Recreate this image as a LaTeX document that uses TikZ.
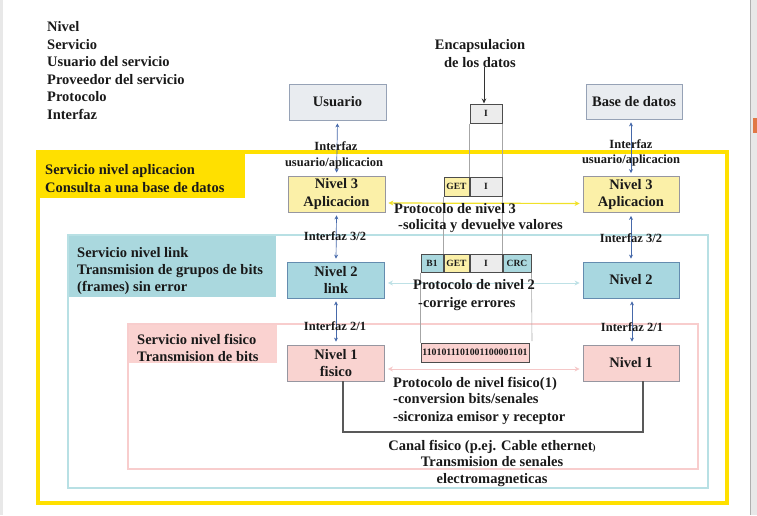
\documentclass[tikz,border=0pt]{standalone}
\usepackage{fontspec}
\setmainfont{Liberation Serif}
\usetikzlibrary{arrows.meta,calc}
\definecolor{yfr}{RGB}{255,224,0}
\definecolor{cyfr}{RGB}{184,224,228}
\definecolor{cyfill}{RGB}{170,216,222}
\definecolor{pkfr}{RGB}{248,205,205}
\definecolor{pkfill}{RGB}{250,210,208}
\definecolor{gyfill}{RGB}{233,236,240}
\definecolor{gyline}{RGB}{150,162,182}
\definecolor{y3fill}{RGB}{251,240,168}
\definecolor{y3line}{RGB}{150,150,160}
\definecolor{n2fill}{RGB}{168,215,224}
\definecolor{n2line}{RGB}{100,140,175}
\definecolor{n1fill}{RGB}{249,211,208}
\definecolor{ifblue}{RGB}{70,105,170}
\definecolor{txt}{RGB}{25,25,25}
\definecolor{p3}{RGB}{240,225,40}
\definecolor{p2}{RGB}{190,225,230}
\definecolor{p1}{RGB}{245,200,200}
\definecolor{edgegray}{RGB}{232,232,232}
\definecolor{edgeline}{RGB}{175,175,175}
\definecolor{orangemark}{RGB}{225,120,70}
\definecolor{pktgray}{RGB}{236,236,236}
\newcommand\fbig{\fontsize{14.5}{17.5}\selectfont\bfseries}
\newcommand\fsm{\fontsize{12.5}{14.5}\selectfont\bfseries}
\newcommand\fpkt{\fontsize{9.5}{10}\selectfont\bfseries}
\newcommand\fbits{\fontsize{9.8}{10}\selectfont\bfseries}
\begin{document}
\begin{tikzpicture}[x=1pt,y=-1pt,
  lbl/.style={anchor=base west, inner sep=0, font=\fbig, text=txt},
  lblc/.style={anchor=base, inner sep=0, font=\fbig, text=txt},
  ifl/.style={anchor=base, inner sep=0, font=\fsm, text=txt},
  box/.style={line width=0.8pt, minimum height=36pt, minimum width=97pt, inner sep=0, align=center, font=\fbig, text=txt},
  pkt/.style={draw=black!70, line width=1pt, inner sep=0, minimum height=19pt, font=\fpkt, text=txt},
  ifarr/.style={draw=ifblue, line width=0.7pt, {Stealth[length=4pt,width=4pt]}-{Stealth[length=4pt,width=4pt]}, shorten <=3pt, shorten >=3pt},
  guide/.style={draw=black!35, line width=0.6pt},
  parr/.style={line width=1.2pt, shorten <=3pt, shorten >=3pt}
]
\useasboundingbox (0,0) rectangle (757,515);
% screen edges
\fill[edgegray] (0,0) rectangle (3,515);
\fill[edgegray] (750,0) rectangle (757,515);
\draw[edgeline, line width=0.8pt] (750,0) -- (750,515);
\fill[orangemark] (753,118) rectangle (757,133);

% frames
\fill[yfr] (38,152) rectangle (245,198);
\draw[yfr, line width=3.5pt] (38,152) rectangle (727,503);
\fill[cyfill] (68,235) rectangle (276,297);
\draw[cyfr, line width=2pt] (68,235) rectangle (708,488);
\fill[pkfill] (128,324) rectangle (277,363);
\draw[pkfr, line width=2pt] (128,324) rectangle (698,469);

% left list
\node[lbl] (t1) at (47,31.5) {Nivel};
\node[lbl] (t2) at (47,49) {Servicio};
\node[lbl] (t3) at (47,66.5) {Usuario del servicio};
\node[lbl] (t4) at (47,84) {Proveedor del servicio};
\node[lbl] (t5) at (47,101.5) {Protocolo};
\node[lbl] (t6) at (47,119) {Interfaz};

% frame labels
\node[lbl] (ya) at (45,174) {Servicio nivel aplicacion};
\node[lbl] (yb) at (45,192) {Consulta a una base de datos};
\node[lbl] (ca) at (77,257) {Servicio nivel link};
\node[lbl] (cb) at (77,274) {Transmision de grupos de bits};
\node[lbl] (cc) at (77,291) {(frames) sin error};
\node[lbl] (pa) at (137,344) {Servicio nivel fisico};
\node[lbl] (pb) at (137,361) {Transmision de bits};

% level boxes
\node[box, draw=gyline, fill=gyfill] (usr) at (337.5,102) {Usuario};
\node[box, draw=y3line, fill=y3fill] (n3l) at (336.5,194) {Nivel 3\\Aplicacion};
\node[box, draw=n2line, fill=n2fill] (n2l) at (336,280) {Nivel 2\\link};
\node[box, draw=y3line, fill=n1fill] (n1l) at (336,363) {Nivel 1\\fisico};
\node[box, draw=gyline, fill=gyfill, minimum width=96pt, minimum height=35pt] (bdd) at (634,101.5) {Base de datos};
\node[box, draw=y3line, fill=y3fill, minimum width=96pt] (n3r) at (631,194.5) {Nivel 3\\Aplicacion};
\node[box, draw=n2line, fill=n2fill, minimum width=96pt] (n2r) at (631,280) {Nivel 2};
\node[box, draw=y3line, fill=n1fill, minimum width=96pt] (n1r) at (631,363) {Nivel 1};

% interface arrows
\draw[ifarr] (usr.south) -- (n3l.north);
\draw[ifarr] (n3l.south) -- (n2l.north);
\draw[ifarr] (n2l.south) -- (n1l.north);
\draw[ifarr] ([xshift=-3pt]bdd.south) -- (n3r.north);
\draw[ifarr] (n3r.south) -- (n2r.north);
\draw[ifarr] ([xshift=1pt]n2r.south) -- ([xshift=1pt]n1r.north);

% protocol arrows
\draw[parr, p3, {Stealth[length=5pt,width=5pt]}-{Stealth[length=5pt,width=5pt]}] ([yshift=-9pt]n3l.east) -- ([yshift=-9pt]n3r.west);
\draw[parr, p2, line width=1pt, {Stealth[length=5pt,width=5pt]}-{Stealth[length=5pt,width=5pt]}] ([yshift=-3pt]n2l.east) -- ([yshift=-3pt]n2r.west);
\draw[parr, p1, line width=1pt, {Stealth[length=5pt,width=5pt]}-{Stealth[length=5pt,width=5pt]}] ([yshift=-6pt]n1l.east) -- ([yshift=-6pt]n1r.west);

% packets
\node[pkt, fill=pktgray, minimum width=32pt] (i0) at (486,113.5) {I};
\node[pkt, fill=y3fill, minimum width=25pt] (get3) at (456.5,186.5) {GET};
\node[pkt, fill=pktgray, minimum width=32pt] (i3) at (486,186.5) {I};
\node[pkt, fill=cyfill, minimum width=22pt, minimum height=18pt] (b1) at (432,263) {B1};
\node[pkt, fill=y3fill, minimum width=25pt, minimum height=18pt] (get2) at (456.5,263) {GET};
\node[pkt, fill=pktgray, minimum width=32pt, minimum height=18pt] (i2) at (486,263) {I};
\node[pkt, fill=cyfill, minimum width=28pt, minimum height=18pt] (crc) at (517,263) {CRC};
\node[pkt, fill=pkfill, minimum width=108pt, font=\fbits] (bits) at (475,352.5) {1101011101001100001101};
\coordinate (crcend) at (532,341);

% guide lines
\draw[guide] (i0.south west) -- (i3.north west);
\draw[guide] (i0.south east) -- (i3.north east);
\draw[guide] (get3.south west) -- (get2.north west);
\draw[guide] (i3.south east) -- (i2.north east);
\draw[guide] (b1.south west) -- (bits.north west);
\draw[guide] (crc.south east) -- (crcend);

% encapsulation
\node[lblc] (enc1) at (480,49) {Encapsulacion};
\node[lblc] (enc2) at (480,67) {de los datos};
\coordinate (encs) at (484,67);
\draw[black!80, line width=0.8pt, -{Stealth[length=5pt,width=4.5pt]}] (encs) -- (encs |- i0.north);

% physical channel
\coordinate (chl) at (343,432);
\coordinate (chr) at (643,432);
\draw[black!65, line width=1.3pt] (n1l.south -| chl) -- (chl) -- (chr) -- (n1r.south -| chr);

% interface labels
\node[ifl] (if1a) at (336,150) {Interfaz};
\node[ifl] (if1b) at (334,166) {usuario/aplicacion};
\node[ifl] (if2) at (335,240) {Interfaz 3/2};
\node[ifl] (if3) at (335,330) {Interfaz 2/1};
\node[ifl] (if4a) at (631,148) {Interfaz};
\node[ifl] (if4b) at (631,163) {usuario/aplicacion};
\node[ifl] (if5) at (631,242) {Interfaz 3/2};
\node[ifl] (if6) at (632,331) {Interfaz 2/1};

% protocol labels
\node[lbl] (pr3a) at (394,213) {Protocolo de nivel 3};
\node[lbl] (pr3b) at (398,229) {-solicita y devuelve valores};
\node[lbl] (pr2a) at (413,289) {Protocolo de nivel 2};
\node[lbl] (pr2b) at (418,307) {-corrige errores};
\node[lbl] (pr1a) at (393,387) {Protocolo de nivel fisico(1)};
\node[lbl] (pr1b) at (393,403) {-conversion bits/senales};
\node[lbl] (pr1c) at (393,421) {-sicroniza emisor y receptor};

% channel labels
\node[lblc] (can1) at (492,450) {Canal fisico (p.ej. Cable ethernet{\fontsize{9}{9}\selectfont)}};
\node[lblc] (can2) at (492,466) {Transmision de senales};
\node[lblc] (can3) at (492,483) {electromagneticas};
\end{tikzpicture}
\end{document}
